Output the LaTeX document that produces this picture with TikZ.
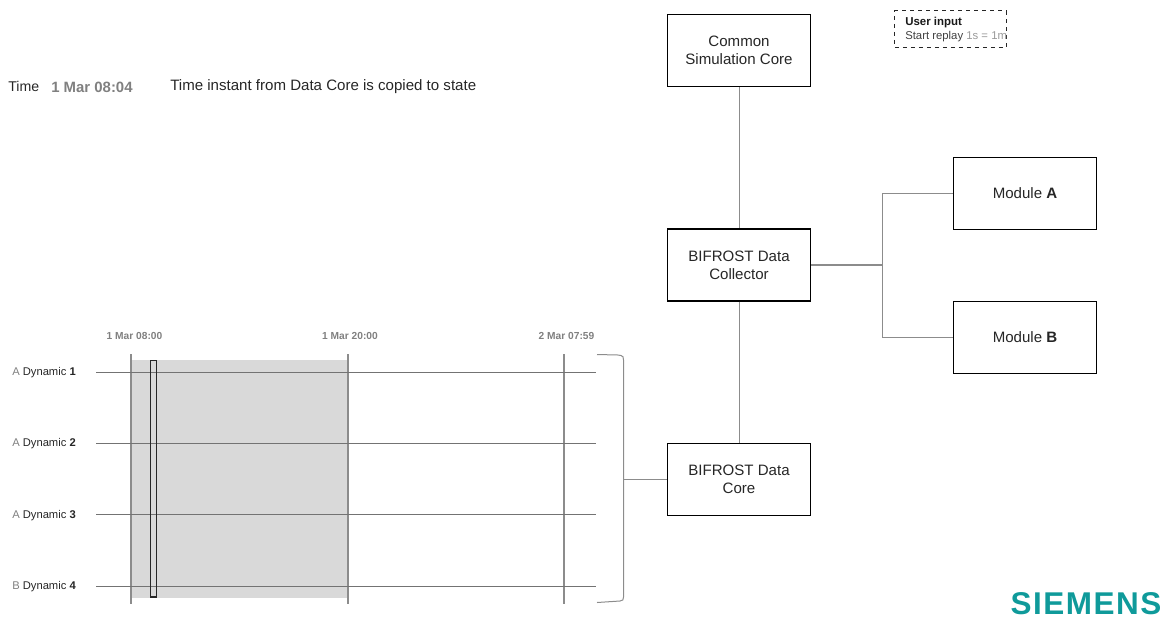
\documentclass[tikz,border=0pt]{standalone}
\usepackage{fontspec}
\setmainfont{Liberation Sans}
\definecolor{linegrey}{HTML}{8C8C8C}
\definecolor{labelgrey}{HTML}{808080}
\definecolor{bandgrey}{HTML}{D9D9D9}
\definecolor{siemensteal}{HTML}{0F9A9A}
\tikzset{
  module/.style={draw=black,line width=0.95pt,minimum width=107.25pt,minimum height=54pt,align=center,inner sep=0pt,font=\fontsize{11.3}{13.5}\selectfont,text=black!85},
  link/.style={draw=linegrey,line width=0.75pt},
  track/.style={draw=black!55,line width=0.6pt},
  tick/.style={draw=black!45,line width=0.8pt},
  ticklabel/.style={font=\fontsize{7.65}{9}\selectfont\bfseries,text=labelgrey,inner sep=0pt},
  rowlabel/.style={font=\fontsize{8.4}{10}\selectfont,text=black!85,inner sep=0pt,anchor=west},
  toptext/.style={font=\fontsize{11.3}{13}\selectfont,text=black!85,inner sep=0pt,anchor=west},
}
\begin{document}
\begin{tikzpicture}[x=0.75pt,y=-0.75pt]
\path[use as bounding box] (0,0) rectangle (1166,619);

% top texts
\node[toptext,font=\fontsize{10.6}{12}\selectfont] (timelabel) at (8,86) {Time};
\node[toptext,font=\fontsize{11.2}{13}\selectfont\bfseries,text=labelgrey] (timevalue) at (51,87) {1 Mar 08:04};
\node[toptext] (note) at (170,87) {Time instant from Data Core is copied to state};

% user input box
\node[draw=black!85,dashed,line width=0.75pt,minimum width=83.5pt,minimum height=27.25pt,inner sep=0pt] (userbox) at (950.5,29) {};
\begin{scope}
\clip (896,11) rectangle (1006,47);
\node[font=\fontsize{8.6}{10}\selectfont\bfseries,text=black!90,inner sep=0pt,anchor=west] (usertitle) at (905,23) {User input};
\node[font=\fontsize{8.5}{10}\selectfont,text=black!75,inner sep=0pt,anchor=west] (userline) at (905,37) {Start replay \textcolor{black!40}{1s = 1m}};
\end{scope}

% grey band and time axis
\fill[bandgrey] (131,360) rectangle (348,598);
\draw[tick] (131,354) coordinate (t1a) -- (131,604) coordinate (t1b);
\draw[tick] (348,354) coordinate (t2a) -- (348,604) coordinate (t2b);
\draw[tick] (564,354) coordinate (t3a) -- (564,604) coordinate (t3b);
\node[ticklabel] (tl1) at (134.5,335.5) {1 Mar 08:00};
\node[ticklabel] (tl2) at (350,335.5) {1 Mar 20:00};
\node[ticklabel] (tl3) at (566.5,335.5) {2 Mar 07:59};

% tracks
\node[rowlabel] (r1) at (12,373) {\textcolor{labelgrey}{A} Dynamic \textbf{1}};
\node[rowlabel] (r2) at (12,444) {\textcolor{labelgrey}{A} Dynamic \textbf{2}};
\node[rowlabel] (r3) at (12,515.5) {\textcolor{labelgrey}{A} Dynamic \textbf{3}};
\node[rowlabel] (r4) at (12,587) {\textcolor{labelgrey}{B} Dynamic \textbf{4}};
\draw[track] (96,372) coordinate (a1) -- (596,372) coordinate (b1);
\draw[track] (96,443.5) coordinate (a2) -- (596,443.5) coordinate (b2);
\draw[track] (96,514.5) coordinate (a3) -- (596,514.5) coordinate (b3);
\draw[track] (96,586) coordinate (a4) -- (596,586) coordinate (b4);

% current instant marker
\draw[draw=black!85,line width=0.9pt] (150.5,360.5) rectangle (156.5,597);

% modules
\node[module] (core) at (739,50.5) {Common\\Simulation Core};
\node[module] (collector) at (739,265) {BIFROST Data\\Collector};
\node[module] (datacore) at (739,479.5) {BIFROST Data\\Core};
\node[module] (moda) at (1025,193.5) {Module \textbf{A}};
\node[module] (modb) at (1025,337.5) {Module \textbf{B}};

% bracket
\coordinate (brtop) at (597,354.5);
\coordinate (brbot) at (597,602.5);
\coordinate (brmid) at (623.5,479.5);
\draw[link] (brtop) -- (618,355) -- (621,355.5) .. controls (623,356) and (623.5,357) .. (623.5,360) -- (brmid) -- (623.5,597) .. controls (623.5,600) and (623,600.5) .. (620,601) -- (brbot);

% connectors
\coordinate (junction) at (882.5,265);
\draw[link] (core) -- (collector);
\draw[link] (collector) -- (datacore);
\draw[link] (brmid) -- (datacore.west);
\draw[link,line width=1pt] (collector.east |- junction) -- (junction);
\draw[link] (moda.west) -- (junction |- moda.west) -- (junction) -- (junction |- modb.west) -- (modb.west);

% logo
\node[inner sep=0pt,anchor=center,text=siemensteal] (logo) at (1086,603.5) {\fontsize{23.6}{24}\selectfont\bfseries\addfontfeature{LetterSpace=4.8}SIEMENS};
\end{tikzpicture}
\end{document}
